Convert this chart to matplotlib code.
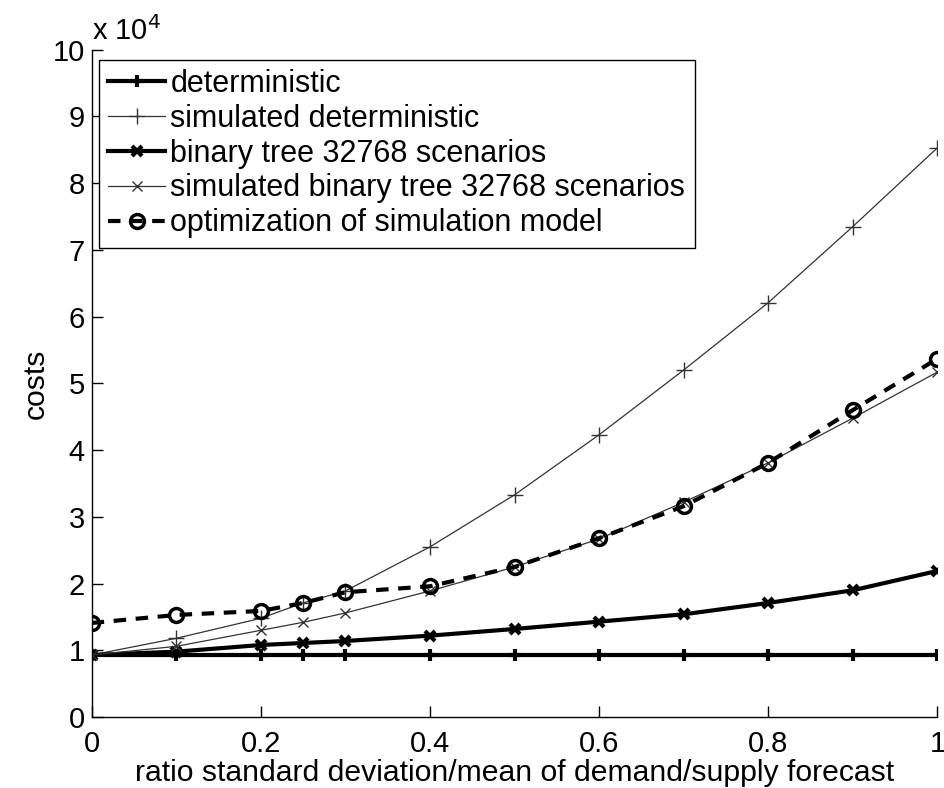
import matplotlib
matplotlib.use("Agg")
import matplotlib.pyplot as plt

plt.rcParams['font.family'] = ['Liberation Sans', 'DejaVu Sans']

# ratio std/mean of the forecast
ratio = [0, 0.1, 0.2, 0.25, 0.3, 0.4, 0.5, 0.6, 0.7, 0.8, 0.9, 1.0]

# costs in units of 1e4
deterministic = [0.93, 0.93, 0.93, 0.93, 0.93, 0.93, 0.93, 0.93, 0.93, 0.93, 0.93, 0.93]
sim_deterministic = [0.93, 1.18, 1.48, 1.71, 1.89, 2.55, 3.33, 4.23, 5.20, 6.21, 7.35, 8.53]
binary_tree = [0.93, 0.98, 1.08, 1.11, 1.14, 1.22, 1.32, 1.43, 1.54, 1.71, 1.90, 2.19]
sim_binary_tree = [0.93, 1.06, 1.30, 1.42, 1.56, 1.89, 2.25, 2.67, 3.22, 3.81, 4.48, 5.17]
opt_simulation = [1.41, 1.53, 1.59, 1.71, 1.87, 1.96, 2.25, 2.68, 3.16, 3.81, 4.60, 5.37]

labels = ["deterministic",
          "simulated deterministic",
          "binary tree 32768 scenarios",
          "simulated binary tree 32768 scenarios",
          "optimization of simulation model"]

fig = plt.figure(figsize=(9.45, 7.88), dpi=100)
ax = fig.add_axes([0.097, 0.090, 0.895, 0.847])

ax.plot(ratio, deterministic, color='black', lw=3, marker='+', ms=9, mew=3, label=labels[0])
ax.plot(ratio, sim_deterministic, color='#333333', lw=0.9, marker='+', ms=11, mew=1.0, label=labels[1])
ax.plot(ratio, binary_tree, color='black', lw=3, marker='x', ms=7, mew=3, label=labels[2])
ax.plot(ratio, sim_binary_tree, color='#333333', lw=0.9, marker='x', ms=7, mew=1.0, label=labels[3])
ax.plot(ratio, opt_simulation, color='black', lw=3, ls=(0, (3.0, 2.3)), marker='o', ms=10,
        mew=2.5, mfc='none', mec='black', label=labels[4])

ax.set_xlim(0, 1)
ax.set_ylim(0, 10)
ax.set_xticks([0, 0.2, 0.4, 0.6, 0.8, 1.0])
ax.set_xticklabels(["0", "0.2", "0.4", "0.6", "0.8", "1"])
ax.set_yticks(range(0, 11))
ax.tick_params(direction='in', length=8, width=1, labelsize=21)
ax.tick_params(axis='x', pad=9)
ax.tick_params(axis='y', pad=5)
for side in ('top', 'right'):
    ax.spines[side].set_visible(False)
for side in ('left', 'bottom'):
    ax.spines[side].set_linewidth(1)

ax.set_xlabel("ratio standard deviation/mean of demand/supply forecast", fontsize=21.7, labelpad=1)
ax.set_ylabel("costs", fontsize=21.7, labelpad=2)
ax.text(0.0, 1.005, r"x 10$^4$", transform=ax.transAxes, fontsize=21, ha='left', va='bottom')

leg = ax.legend(loc='upper left', bbox_to_anchor=(0.009, 0.985), fontsize=22, frameon=True,
                fancybox=False, framealpha=1, edgecolor='black', handlelength=1.85,
                handletextpad=0.18, labelspacing=0.16, borderpad=0.3, borderaxespad=0)
leg.get_frame().set_linewidth(1)

fig.savefig("out.png", dpi=100)
